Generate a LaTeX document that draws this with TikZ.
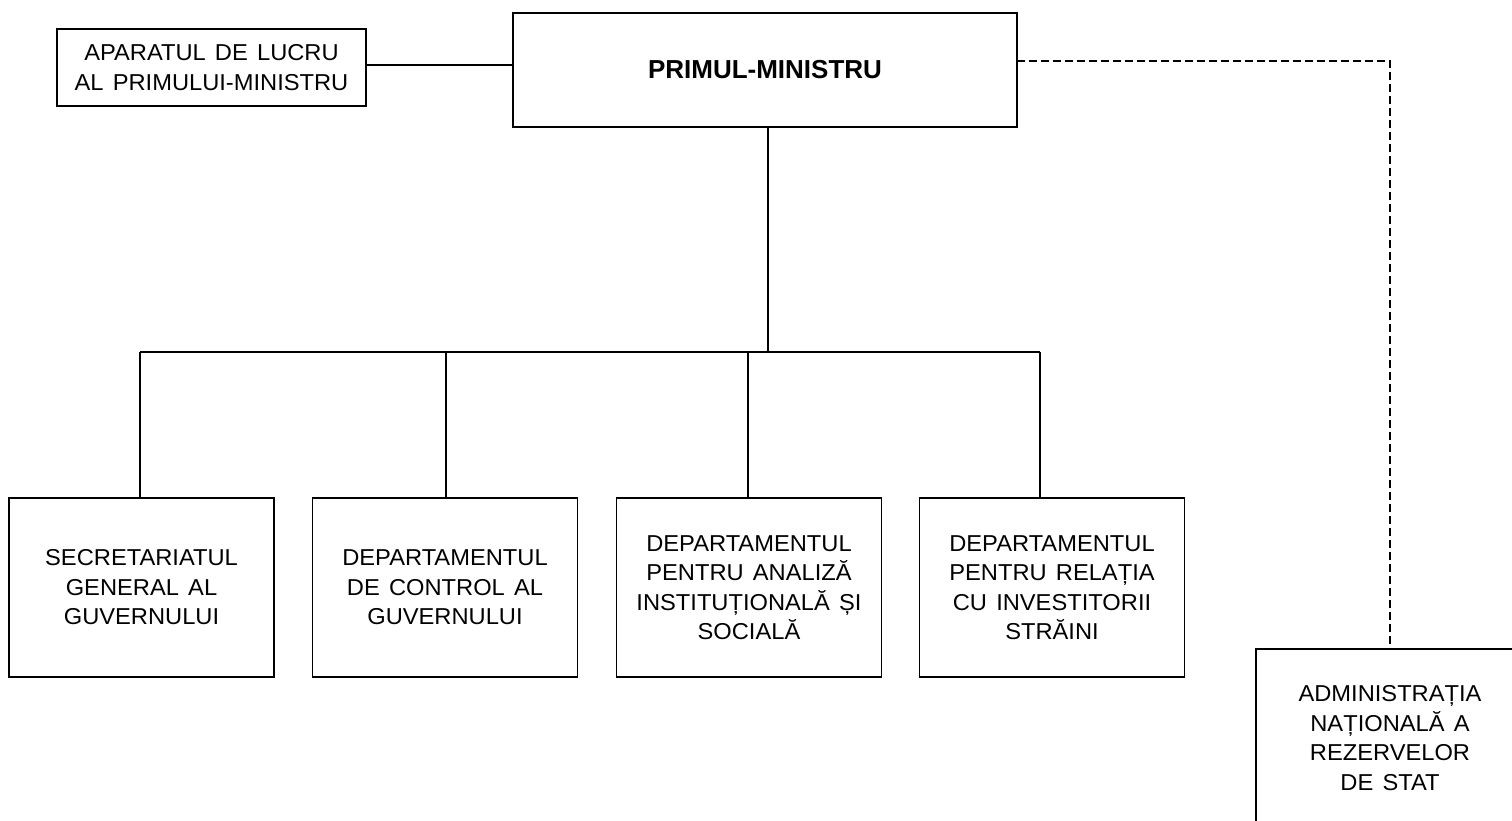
\documentclass[tikz,border=0pt]{standalone}
\usepackage{fontspec}
\setmainfont{Liberation Sans}[FakeStretch=1.03, WordSpace=1.4]
\newfontfamily\pmfont{Liberation Sans}
\begin{document}
\begin{tikzpicture}[x=1pt,y=-1pt,
  box/.style={draw, line width=1.8pt, inner sep=0pt, align=center,
    font=\fontsize{23}{29.5}\selectfont},
  conn/.style={line width=1.7pt},
  dconn/.style={line width=1.6pt, dash pattern=on 8pt off 4pt}]
\useasboundingbox (0,0) rectangle (1512,821);
\node[box, minimum width=309pt, minimum height=77pt] (ap) at (211.5,67.5)
  {APARATUL DE LUCRU\\AL PRIMULUI-MINISTRU};
\node[box, minimum width=504pt, minimum height=114pt,
  font=\pmfont\bfseries\fontsize{26}{30}\selectfont] (pm) at (765,70) {PRIMUL-MINISTRU};
\node[box, minimum width=265pt, minimum height=179pt] (s1) at (141.5,587.5)
  {SECRETARIATUL\\GENERAL AL\\GUVERNULUI};
\node[box, minimum width=265pt, minimum height=179pt] (s2) at (445,587.5)
  {DEPARTAMENTUL\\DE CONTROL AL\\GUVERNULUI};
\node[box, minimum width=265pt, minimum height=179pt] (s3) at (749,587.5)
  {DEPARTAMENTUL\\PENTRU ANALIZĂ\\INSTITUȚIONALĂ ȘI\\SOCIALĂ};
\node[box, minimum width=265pt, minimum height=179pt] (s4) at (1052,587.5)
  {DEPARTAMENTUL\\PENTRU RELAȚIA\\CU INVESTITORII\\STRĂINI};
\node[box, minimum width=268pt, minimum height=178pt] (adm) at (1390,738)
  {ADMINISTRAȚIA\\NAȚIONALĂ A\\REZERVELOR\\DE STAT};
\coordinate (busL) at (140,352);
\coordinate (busR) at (1040,352);
\coordinate (b2) at (446,352);
\coordinate (b3) at (748,352);
\coordinate (pmB) at (768,127);
\coordinate (apR) at (366,65);
\coordinate (pmR) at (1017,61);
\draw[conn] (apR) -- (apR -| pm.west);
\draw[dconn] (pmR) -| (adm.north);
\draw[conn] (pmB) -- (pmB |- busL);
\draw[conn] (busL) -- (busR);
\draw[conn] (busL) -- (busL |- s1.north);
\draw[conn] (b2) -- (b2 |- s2.north);
\draw[conn] (b3) -- (b3 |- s3.north);
\draw[conn] (busR) -- (busR |- s4.north);
\end{tikzpicture}
\end{document}
